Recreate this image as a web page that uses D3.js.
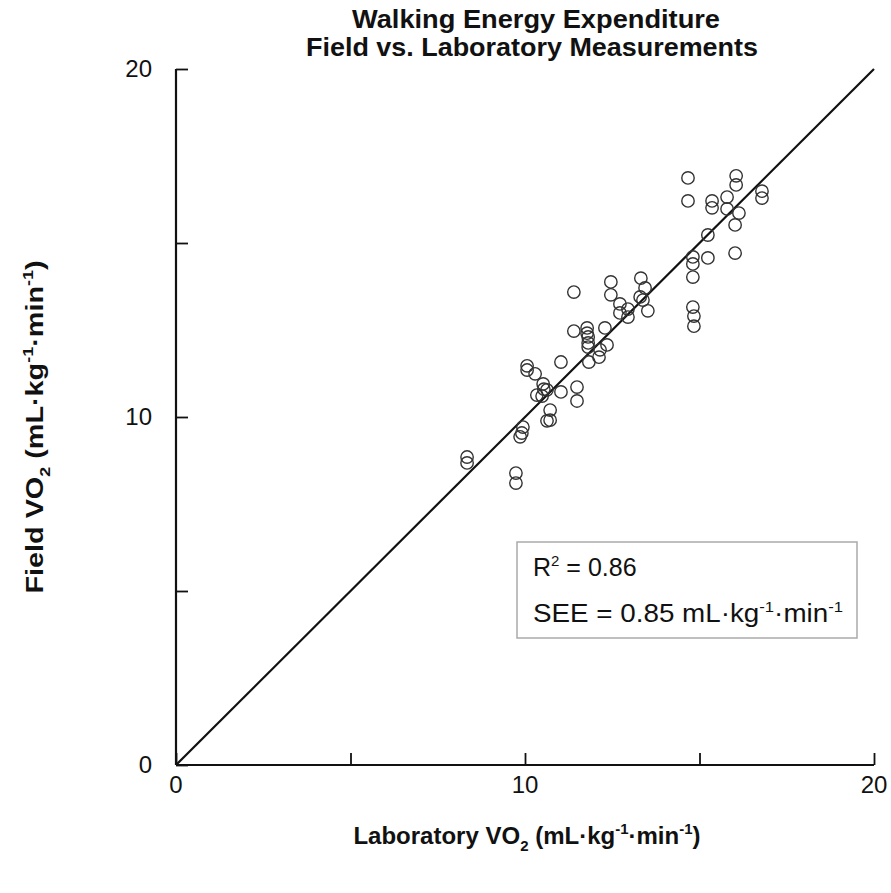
<!DOCTYPE html>
<html>
<head>
<meta charset="utf-8">
<script src="https://cdn.jsdelivr.net/npm/d3@7"></script>
<style>
html,body{margin:0;padding:0;background:#fff;}
svg{display:block;}
text{font-family:"Liberation Sans",Arial,Helvetica,sans-serif;fill:#111;}
</style>
</head>
<body>
<script>
// Data: laboratory VO2 (x) vs field VO2 (y), mL·kg-1·min-1
const labVO2 = [8.34,8.34,9.74,9.74,9.86,9.91,9.94,10.06,10.06,10.29,10.63,10.72,10.72,10.34,10.49,10.63,10.52,10.54,11.03,11.03,11.49,11.49,11.40,11.40,11.78,11.78,11.81,11.81,11.81,11.83,12.12,12.15,12.29,12.35,12.46,12.46,12.72,12.72,12.95,12.95,13.32,13.44,13.30,13.38,13.52,14.81,14.81,14.81,14.81,14.84,14.84,14.67,14.67,15.24,15.24,15.36,15.36,15.79,15.79,16.02,16.02,16.05,16.05,16.13,16.79,16.79];
const fieldVO2 = [8.85,8.68,8.39,8.10,9.43,9.54,9.71,11.47,11.35,11.24,9.89,9.91,10.20,10.63,10.60,10.78,10.95,10.80,11.58,10.72,10.86,10.46,12.47,13.59,12.56,12.41,12.30,12.13,12.01,11.58,11.72,11.93,12.56,12.07,13.88,13.51,13.25,12.99,13.10,12.87,13.99,13.71,13.45,13.36,13.05,14.40,14.60,14.02,13.16,12.90,12.61,16.87,16.21,15.23,14.57,16.21,16.01,16.32,15.98,15.52,14.71,16.93,16.67,15.86,16.49,16.29];
const identityLine = [[0,0],[20,20]];
const xTicks = [0,5,10,15,20];
const xTickLabels = ["0","","10","","20"];
const yTicks = [0,5,10,15,20];
const yTickLabels = ["0","","10","","20"];
const titleLines = ["Walking Energy Expenditure","Field vs. Laboratory Measurements"];
const statR2 = "0.86";
const statSEE = "0.85";

const W = 891, H = 893;
const svg = d3.select("body").append("svg").attr("width",W).attr("height",H);

const x = d3.scaleLinear().domain([0,20]).range([176,874]);
const y = d3.scaleLinear().domain([0,20]).range([765,69]);

// Title
svg.append("text").attr("x",536).attr("y",28).attr("text-anchor","middle")
  .attr("font-size",25).attr("font-weight","bold")
  .attr("textLength",368).attr("lengthAdjust","spacingAndGlyphs").text(titleLines[0]);
svg.append("text").attr("x",532).attr("y",56).attr("text-anchor","middle")
  .attr("font-size",25).attr("font-weight","bold")
  .attr("textLength",452).attr("lengthAdjust","spacingAndGlyphs").text(titleLines[1]);

// Axes
const xAxis = d3.axisBottom(x).tickValues(xTicks).tickSize(-12).tickFormat(""); 
const gx = svg.append("g").attr("transform",`translate(0,${y(0)})`).call(xAxis);
gx.select(".domain").attr("d",`M${x(0)},0H${x(20)}`).attr("stroke","#111").attr("stroke-width",2.2);
gx.selectAll(".tick line").attr("stroke","#111").attr("stroke-width",1.8);

const yAxis = d3.axisLeft(y).tickValues(yTicks).tickSize(-12).tickFormat("");
const gy = svg.append("g").attr("transform",`translate(${x(0)},0)`).call(yAxis);
gy.select(".domain").attr("d",`M0,${y(20)}V${y(0)}`).attr("stroke","#111").attr("stroke-width",2.2);
gy.selectAll(".tick line").attr("stroke","#111").attr("stroke-width",1.8);

// Tick labels
svg.append("g").selectAll("text").data(xTicks.map((v,i)=>({v,l:xTickLabels[i]})).filter(d=>d.l))
  .join("text").attr("x",d=>x(d.v)).attr("y",y(0)+28).attr("text-anchor","middle")
  .attr("font-size",24).text(d=>d.l);
svg.append("g").selectAll("text").data(yTicks.map((v,i)=>({v,l:yTickLabels[i]})).filter(d=>d.l))
  .join("text").attr("x",x(0)-24).attr("y",d=>y(d.v)+8).attr("text-anchor","end")
  .attr("font-size",24).text(d=>d.l);

// Identity line
svg.append("path").datum(identityLine)
  .attr("d",d3.line().x(d=>x(d[0])).y(d=>y(d[1])))
  .attr("stroke","#111").attr("stroke-width",2.2).attr("fill","none");

// Points
svg.append("g").selectAll("circle").data(labVO2.map((v,i)=>[v,fieldVO2[i]]))
  .join("circle").attr("cx",d=>x(d[0])).attr("cy",d=>y(d[1])).attr("r",6.2)
  .attr("fill","none").attr("stroke","#333").attr("stroke-width",1.4);

// Stats box
svg.append("rect").attr("x",517).attr("y",542).attr("width",340).attr("height",96)
  .attr("fill","#fff").attr("stroke","#aaa").attr("stroke-width",1.5);
const t1 = svg.append("text").attr("x",533).attr("y",576).attr("font-size",25);
t1.append("tspan").text("R");
t1.append("tspan").attr("dy",-10).attr("font-size",15).text("2");
t1.append("tspan").attr("dy",10).text(" = " + statR2);
const t2 = svg.append("text").attr("x",533).attr("y",622).attr("font-size",25)
  .attr("textLength",310).attr("lengthAdjust","spacingAndGlyphs");
t2.append("tspan").text("SEE = " + statSEE + " mL·kg");
t2.append("tspan").attr("dy",-10).attr("font-size",15).text("-1");
t2.append("tspan").attr("dy",10).text("·min");
t2.append("tspan").attr("dy",-10).attr("font-size",15).text("-1");

// X axis title
const xt = svg.append("text").attr("x",527).attr("y",844).attr("text-anchor","middle")
  .attr("font-size",24).attr("font-weight","bold");
xt.append("tspan").text("Laboratory VO");
xt.append("tspan").attr("dy",7).attr("font-size",15).text("2");
xt.append("tspan").attr("dy",-7).text(" (mL·kg");
xt.append("tspan").attr("dy",-10).attr("font-size",15).text("-1");
xt.append("tspan").attr("dy",10).text("·min");
xt.append("tspan").attr("dy",-10).attr("font-size",15).text("-1");
xt.append("tspan").attr("dy",10).text(")");

// Y axis title
const yt = svg.append("text").attr("transform","translate(43,427) rotate(-90) scale(1.2,1)")
  .attr("text-anchor","middle").attr("font-size",24).attr("font-weight","bold");
yt.append("tspan").text("Field VO");
yt.append("tspan").attr("dy",7).attr("font-size",15).text("2");
yt.append("tspan").attr("dy",-7).text(" (mL·kg");
yt.append("tspan").attr("dy",-10).attr("font-size",15).text("-1");
yt.append("tspan").attr("dy",10).text("·min");
yt.append("tspan").attr("dy",-10).attr("font-size",15).text("-1");
yt.append("tspan").attr("dy",10).text(")");
</script>
</body>
</html>
